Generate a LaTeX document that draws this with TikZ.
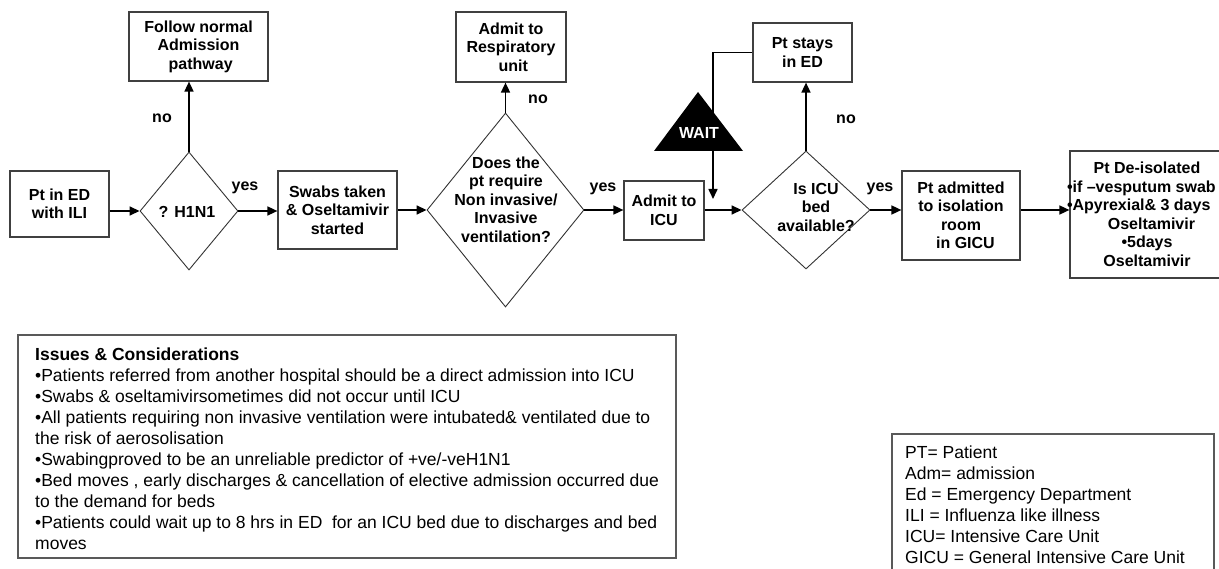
\documentclass[tikz,border=0pt]{standalone}
\usepackage{fontspec}
\setmainfont{Liberation Sans}
\usepackage{tikz}
\usetikzlibrary{shapes.geometric, arrows.meta}
\newcommand{\flowFont}{\fontsize{16}{18.5}\selectfont\bfseries}
\newcommand{\noteFont}{\fontsize{17.5}{21}\selectfont}
\tikzstyle{chart} = [x = 1pt, y = -1pt]
\tikzstyle{flowBox} = [draw=black!75, line width=1.2pt, inner sep=0pt, align=center, font=\flowFont]
\tikzstyle{decision} = [diamond, draw=black!80, line width=0.9pt, inner sep=0pt]
\tikzstyle{decisionText} = [align=center, font=\flowFont, inner sep=0pt]
\tikzstyle{answerText} = [font=\flowFont, inner sep=0pt]
\tikzstyle{flowArrow} = [line width=1.6pt, -{Triangle[length=10pt, width=9pt]}]
\tikzstyle{noteBox} = [draw=black!65, line width=1.4pt]
\tikzstyle{noteText} = [align=left, font=\noteFont, inner sep=0pt, anchor=north west]
\begin{document}
\begin{tikzpicture}[chart]
  \fill [white] (0,0) rectangle (1219,569);
  \useasboundingbox (0,0) rectangle (1219,569);
  \clip (0,0) rectangle (1219,569);
  % main row
  \node [flowBox, minimum width=99, minimum height=66] (ptED) at (59.5,204) {Pt in ED\\with ILI};
  \node [decision, minimum width=98, minimum height=118] (h1n1) at (189,211) {};
  \node [decisionText] (h1n1Text) at (187,212) {? H1N1};
  \node [flowBox, minimum width=139, minimum height=69] (followNormal) at (198.5,46.5) {Follow normal\\Admission\\\ pathway};
  \node [flowBox, minimum width=119, minimum height=78] (swabs) at (337.5,210) {Swabs taken\\\& Oseltamivir\\started};
  \node [decision, minimum width=157, minimum height=194] (dVent) at (505.5,210) {};
  \node [decisionText] (dVentText) at (506,199.5) {Does the\\pt require\\Non invasive/\\Invasive\\ventilation?};
  \node [flowBox, minimum width=110, minimum height=70] (respiratory) at (511,47) {Admit to\\Respiratory\\\ unit};
  \node [flowBox, minimum width=80, minimum height=59] (admitICU) at (664,210.5) {Admit to\\ICU};
  \node [decision, minimum width=128, minimum height=118] (dBed) at (806,210) {};
  \node [decisionText] (dBedText) at (816,207) {Is ICU\\bed\\available?};
  \node [flowBox, minimum width=99, minimum height=59] (ptStays) at (802.5,52.5) {Pt stays\\in ED};
  \node [flowBox, minimum width=118, minimum height=89] (ptIsolation) at (961,215.5) {Pt admitted\\to isolation\\room\\\ \ in GICU};
  \node [flowBox, minimum width=154, minimum height=127] (deIsolated) at (1147,214.5) {Pt De-isolated\\\makebox[150pt][l]{\hspace*{-5pt}•if –vesputum swab}\\\makebox[150pt][l]{\hspace*{-5pt}•Apyrexial\& 3 days}\\\ \ Oseltamivir\\•5days\\Oseltamivir};
  % answers
  \node [answerText] (noH1N1) at (162,118) {no};
  \node [answerText] (yesH1N1) at (245,188) {yes};
  \node [answerText] (noVent) at (538,99) {no};
  \node [answerText] (yesVent) at (603,189) {yes};
  \node [answerText] (noBed) at (846,119) {no};
  \node [answerText] (yesBed) at (880,189) {yes};
  % connectors
  \draw [flowArrow] (ptED.east |- h1n1.west) -- (h1n1.west);
  \draw [flowArrow] (h1n1.east) -- (swabs.west |- h1n1.east);
  \draw [flowArrow] (h1n1.north) -- (h1n1.north |- followNormal.south);
  \draw [flowArrow] (swabs.east |- dVent.west) -- (dVent.west);
  \draw [flowArrow] (dVent.north) -- (dVent.north |- respiratory.south);
  \draw [flowArrow] (dVent.east) -- (admitICU.west |- dVent.east);
  \draw [flowArrow] (admitICU.east |- dBed.west) -- (dBed.west);
  \draw [flowArrow] (dBed.north) -- (dBed.north |- ptStays.south);
  \draw [flowArrow] (dBed.east) -- (ptIsolation.west |- dBed.east);
  \draw [flowArrow] (ptIsolation.east |- dBed.east) -- (deIsolated.west |- dBed.east);
  \coordinate (waitDrop) at (713,199);
  \draw [flowArrow] (ptStays.west) -| (waitDrop);
  % wait sign
  \fill [black] (698,92) -- (743,151) -- (654,151) -- cycle;
  \node [answerText, text=white] (wait) at (699,133) {WAIT};
  % notes
  \draw [noteBox] (18,335) rectangle (676,558);
  \node [noteText] (issues) at (35,347.5) {\textbf{Issues \& Considerations}\\
    •Patients referred from another hospital should be a direct admission into ICU\\
    •Swabs \& oseltamivirsometimes did not occur until ICU\\
    •All patients requiring non invasive ventilation were intubated\& ventilated due to\\
    the risk of aerosolisation\\
    •Swabingproved to be an unreliable predictor of +ve/-veH1N1\\
    •Bed moves , early discharges \& cancellation of elective admission occurred due\\
    to the demand for beds\\
    •Patients could wait up to 8 hrs in ED\ \ for an ICU bed due to discharges and bed\\
    moves};
  \draw [noteBox, line width=1.2pt] (892,434) rectangle (1214,600);
  \node [noteText] (legend) at (905,446) {PT= Patient\\
    Adm= admission\\
    Ed = Emergency Department\\
    ILI = Influenza like illness\\
    ICU= Intensive Care Unit\\
    GICU = General Intensive Care Unit};
\end{tikzpicture}
\end{document}
